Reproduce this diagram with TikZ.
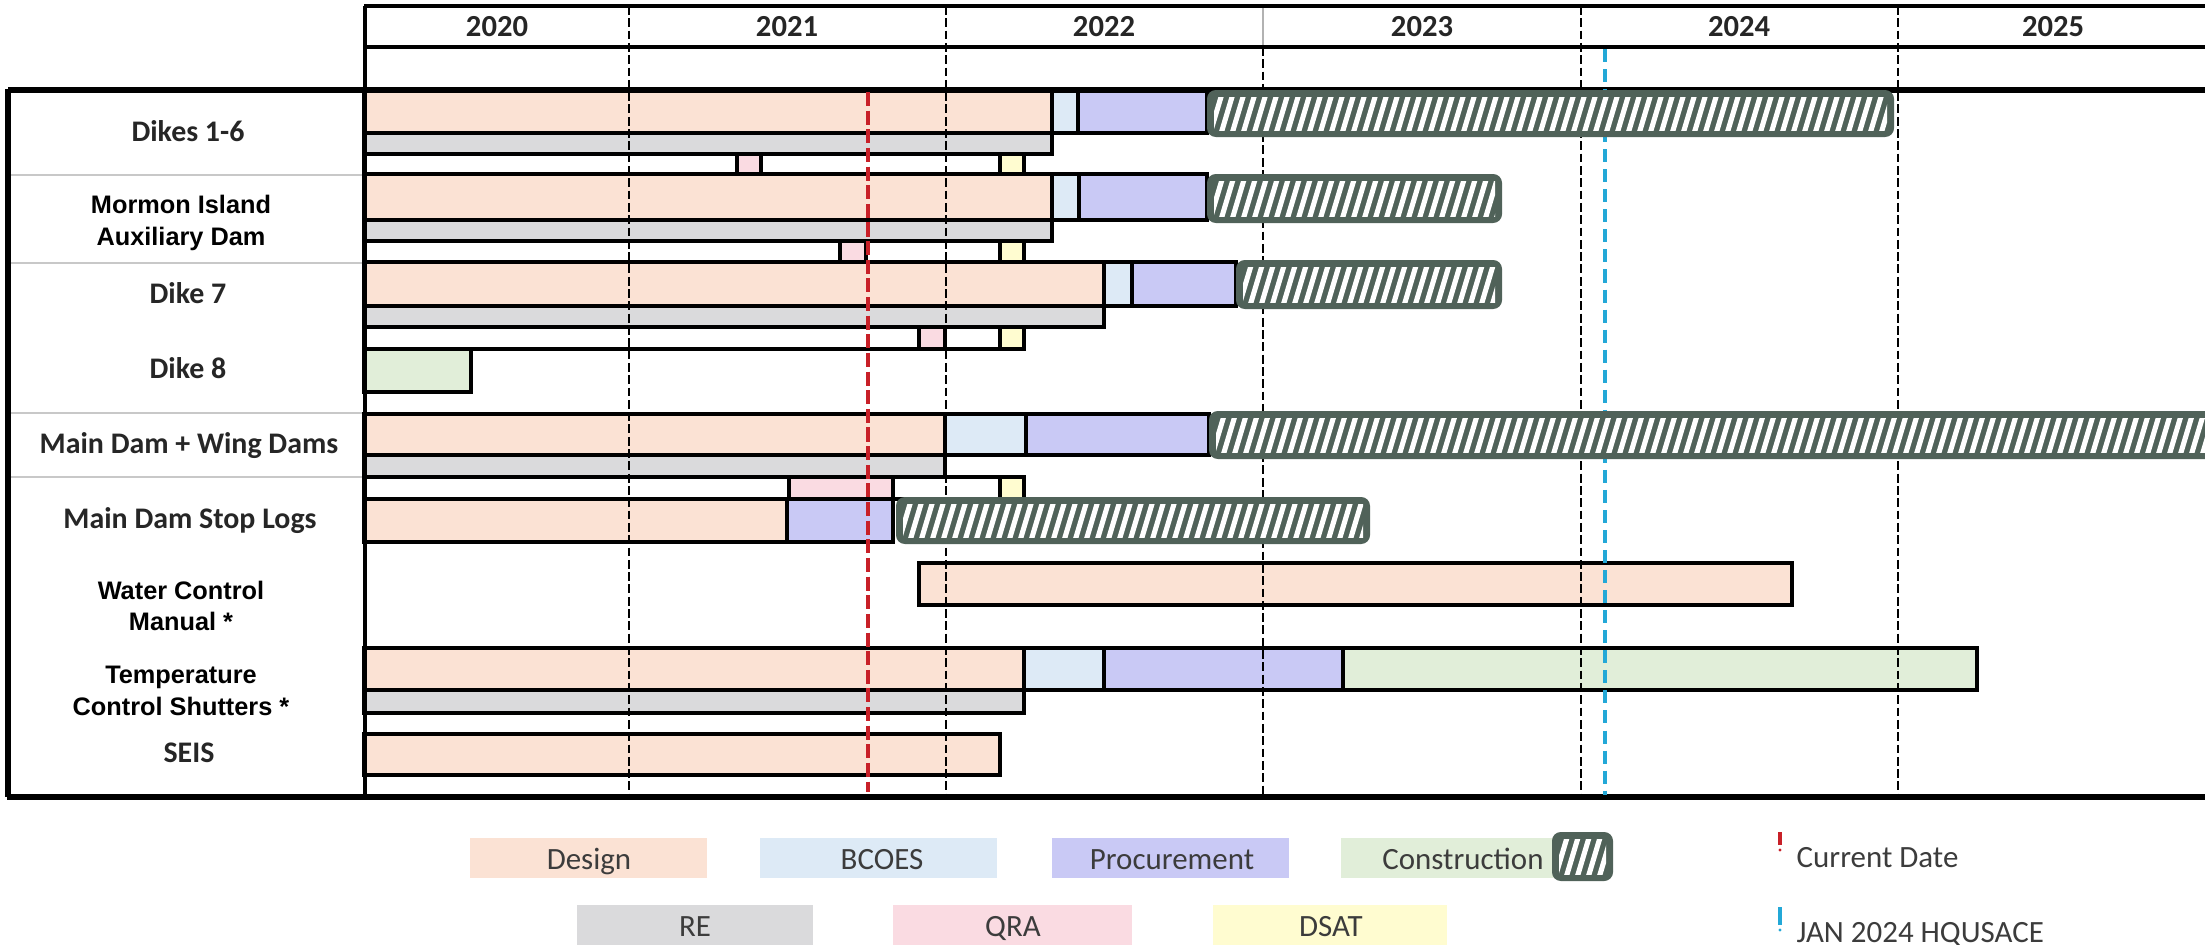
\documentclass[tikz,border=0pt]{standalone}
\usepackage{fontspec}
\setmainfont{Carlito}
\newfontfamily\calfont{Carlito}
\newfontfamily\arialfont{Liberation Sans}
\definecolor{cDesign}{RGB}{251,226,212}
\definecolor{cBcoes}{RGB}{221,234,246}
\definecolor{cProc}{RGB}{201,201,245}
\definecolor{cCons}{RGB}{225,238,217}
\definecolor{cRE}{RGB}{218,218,220}
\definecolor{cQRA}{RGB}{250,219,226}
\definecolor{cDSAT}{RGB}{255,252,208}
\definecolor{cHatch}{RGB}{80,98,89}
\definecolor{cRed}{RGB}{200,32,40}
\definecolor{cCyan}{RGB}{35,168,215}
\definecolor{cSep}{RGB}{200,200,200}
\definecolor{labgray}{RGB}{38,38,38}
\definecolor{legtxt}{RGB}{60,60,60}
\newcommand{\hatchbar}[4]{%
  \fill[cHatch, rounded corners=2.5] (#1,#2) rectangle (#3,#4);
  \begin{scope}
    \clip ({#1+7},{#2+7}) rectangle ({#3-7},{#4-7});
    \pgfmathsetmacro\hbA{#1-20}
    \pgfmathsetmacro\hbB{#1-20+11}
    \pgfmathsetmacro\hbD{0.3*(#4-#2)}
    \foreach \s in {\hbA,\hbB,...,#3}{\draw[white,line width=1.45pt] (\s,#4) -- ({\s+\hbD},#2);}
  \end{scope}}
\tikzset{
  bar/.style={draw=black, line width=0.95pt},
  bDesign/.style={bar, fill=cDesign},
  bBcoes/.style={bar, fill=cBcoes},
  bProc/.style={bar, fill=cProc},
  bCons/.style={bar, fill=cCons},
  bRE/.style={bar, fill=cRE},
  bQRA/.style={bar, fill=cQRA},
  bDSAT/.style={bar, fill=cDSAT},
  bSub/.style={bar, fill=white},
  lab/.style={font=\calfont\bfseries\fontsize{8.5}{10}\selectfont, text=labgray, anchor=base, inner sep=0pt},
  labA/.style={font=\arialfont\bfseries\fontsize{7.2}{9}\selectfont, text=black, anchor=base, inner sep=0pt},
  yr/.style={font=\calfont\bfseries\fontsize{8.7}{10}\selectfont, text=labgray, anchor=base, inner sep=0pt},
  leg/.style={font=\calfont\fontsize{8.8}{10}\selectfont, text=legtxt, anchor=base, inner sep=0pt},
  yline/.style={black, line width=0.45pt, dash pattern=on 2.5pt off 1pt},
  frame/.style={black, line width=1.3pt},
}
\begin{document}
\begin{tikzpicture}[x=0.01cm,y=-0.01cm]
\useasboundingbox (0,0) rectangle (2205,945);
\fill[white] (0,0) rectangle (2205,945);

% label column separators
\foreach \yy in {175,263,413,477} \draw[cSep,line width=0.8pt] (10,\yy) -- (363,\yy);

% sub rows (QRA / DSAT)
\draw[bSub] (364,154) rectangle (1024,174);
\draw[bSub] (364,241) rectangle (1024,262);
\draw[bSub] (364,327) rectangle (1024,349);
\draw[bSub] (364,477) rectangle (1024,499);

% Dikes 1-6
\draw[bDesign] (364,90) rectangle (1052,133);
\draw[bBcoes] (1052,90) rectangle (1078,133);
\draw[bProc] (1078,90) rectangle (1207,133);
\draw[bRE] (364,133) rectangle (1052,154);
\draw[bQRA] (737,154) rectangle (761,174);
\draw[bDSAT] (1000,154) rectangle (1024,174);

% Mormon Island
\draw[bDesign] (364,174) rectangle (1052,220);
\draw[bBcoes] (1052,174) rectangle (1079,220);
\draw[bProc] (1079,174) rectangle (1207,220);
\draw[bRE] (364,220) rectangle (1052,241);
\draw[bQRA] (840,241) rectangle (866,262);
\draw[bDSAT] (1000,241) rectangle (1024,262);

% Dike 7
\draw[bDesign] (364,262) rectangle (1104,306);
\draw[bBcoes] (1104,262) rectangle (1132,306);
\draw[bProc] (1132,262) rectangle (1236,306);
\draw[bRE] (364,306) rectangle (1104,327);
\draw[bQRA] (919,327) rectangle (945,349);
\draw[bDSAT] (1000,327) rectangle (1024,349);

% Dike 8
\draw[bCons] (364,349) rectangle (471,392);

% Main Dam + Wing Dams
\draw[bDesign] (364,414) rectangle (945,455);
\draw[bBcoes] (945,414) rectangle (1026,455);
\draw[bProc] (1026,414) rectangle (1209,455);
\draw[bRE] (364,455) rectangle (945,477);

% Main Dam Stop Logs
\draw[bQRA] (789,477) rectangle (893,499);
\draw[bDSAT] (1000,477) rectangle (1024,499);
\draw[bDesign] (364,499) rectangle (787,542);
\draw[bProc] (787,499) rectangle (893,542);

% Water Control Manual
\draw[bDesign] (919,563) rectangle (1792,605);

% Temperature Control Shutters
\draw[bDesign] (364,648) rectangle (1024,690);
\draw[bBcoes] (1024,648) rectangle (1104,690);
\draw[bProc] (1104,648) rectangle (1343,690);
\draw[bCons] (1343,648) rectangle (1977,690);
\draw[bRE] (364,690) rectangle (1024,713);

% SEIS
\draw[bDesign] (364,734) rectangle (1000,775);

% year lines
\foreach \xx in {629,946,1581,1898} \draw[yline] (\xx,6) -- (\xx,797);
\draw[gray!60, line width=0.5pt] (1263,6) -- (1263,47);
\draw[yline] (1263,47) -- (1263,797);

% frame
\draw[frame] (364,6) -- (2205,6);
\draw[black,line width=0.9pt] (364,47) -- (2205,47);
\draw[black,line width=1.5pt] (8,90) -- (2205,90);
\draw[frame] (365,6) -- (365,797);
\draw[black,line width=1.5pt] (8,89) -- (8,797);
\draw[black,line width=1.8pt] (7,797) -- (2205,797);

% current date and HQUSACE lines
\draw[cRed, line width=1.1pt, dash pattern=on 4pt off 1.3pt] (868,92) -- (868,792);
\draw[cCyan, line width=1.2pt, dash pattern=on 3.7pt off 2pt] (1605,49) -- (1605,795);

% construction (hatched)
\hatchbar{1207}{90}{1894}{137}
\hatchbar{1207}{174}{1502}{223}
\hatchbar{1236}{260}{1502}{309}
\hatchbar{1209}{411}{2220}{459}
\hatchbar{896}{497}{1370}{544}

% header years
\node[yr] (y2020) at (497,36) {2020};
\node[yr] (y2021) at (787,36) {2021};
\node[yr] (y2022) at (1104,36) {2022};
\node[yr] (y2023) at (1422,36) {2023};
\node[yr] (y2024) at (1739,36) {2024};
\node[yr] (y2025) at (2053,36) {2025};

% row labels
\node[lab] (l1) at (188,141.5) {Dikes 1-6};
\node[labA] (l2a) at (181,213) {Mormon Island};
\node[labA] (l2b) at (181,245) {Auxiliary Dam};
\node[lab] (l3) at (188,303) {Dike 7};
\node[lab] (l4) at (188,378) {Dike 8};
\node[lab] (l5) at (189,453) {Main Dam + Wing Dams};
\node[lab] (l6) at (190,528) {Main Dam Stop Logs};
\node[labA] (l7a) at (181,599) {Water Control};
\node[labA] (l7b) at (181,630) {Manual *};
\node[labA] (l8a) at (181,683) {Temperature};
\node[labA] (l8b) at (181,715) {Control Shutters *};
\node[lab] (l9) at (189,762) {SEIS};

% legend
\fill[cDesign] (470,838) rectangle (707,878);
\fill[cBcoes] (760,838) rectangle (997,878);
\fill[cProc] (1052,838) rectangle (1289,878);
\fill[cCons] (1341,838) rectangle (1556,878);
\fill[cRE] (577,905) rectangle (813,950);
\fill[cQRA] (893,905) rectangle (1132,950);
\fill[cDSAT] (1213,905) rectangle (1447,950);
\hatchbar{1552}{832}{1613}{881}
\node[leg] (gDesign) at (589,869) {Design};
\node[leg] (gBcoes) at (882,869) {BCOES};
\node[leg] (gProc) at (1172,869) {Procurement};
\node[leg] (gCons) at (1463,869) {Construction};
\node[leg] (gRE) at (695,936) {RE};
\node[leg] (gQRA) at (1013,936) {QRA};
\node[leg] (gDSAT) at (1331,936) {DSAT};
\draw[cRed, line width=1pt] (1780,832) -- (1780,845);
\fill[cRed] (1780,850) circle (1.6);
\draw[cCyan, line width=1pt] (1780,907) -- (1780,925);
\fill[cCyan] (1780,930) circle (1.6);
\node[leg, anchor=base west] (gCur) at (1796,867) {Current Date};
\node[leg, anchor=base west] (gJan) at (1796,942) {JAN 2024 HQUSACE};
\end{tikzpicture}
\end{document}
